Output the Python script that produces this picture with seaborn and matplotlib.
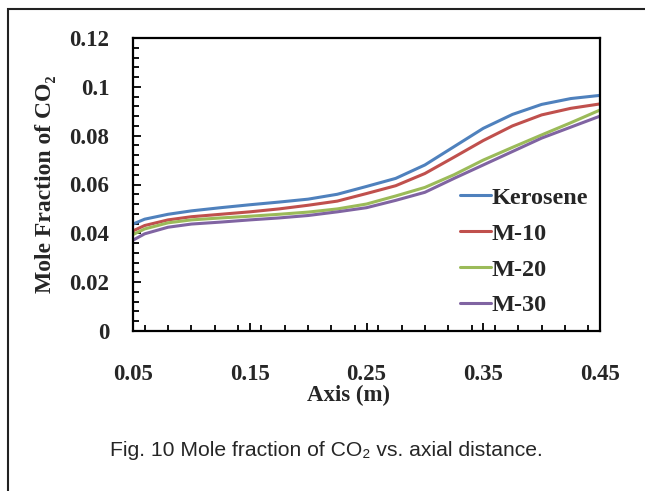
"""Mole fraction of CO2 along the combustor axis"""

import matplotlib.pyplot as plt
import pandas as pd
import seaborn as sns
from matplotlib.patches import Rectangle
from matplotlib.ticker import MultipleLocator, FixedLocator

# values
axis_m = [0.05, 0.06, 0.08, 0.10, 0.125, 0.15, 0.175, 0.20, 0.225, 0.25,
          0.275, 0.30, 0.325, 0.35, 0.375, 0.40, 0.425, 0.45]
kerosene = [0.0438, 0.0458, 0.0478, 0.0492, 0.0505, 0.0517, 0.0528, 0.0540, 0.0560, 0.0592,
            0.0625, 0.0680, 0.0755, 0.0830, 0.0887, 0.0928, 0.0952, 0.0965]
m10 = [0.0410, 0.0432, 0.0455, 0.0468, 0.0478, 0.0488, 0.0500, 0.0515, 0.0532, 0.0563,
       0.0595, 0.0645, 0.0712, 0.0780, 0.0840, 0.0885, 0.0912, 0.0930]
m20 = [0.0395, 0.0418, 0.0443, 0.0455, 0.0463, 0.0470, 0.0478, 0.0487, 0.0500, 0.0520,
       0.0553, 0.0588, 0.0640, 0.0700, 0.0752, 0.0803, 0.0853, 0.0905]
m30 = [0.0372, 0.0398, 0.0425, 0.0438, 0.0446, 0.0455, 0.0463, 0.0473, 0.0488, 0.0505,
       0.0535, 0.0568, 0.0625, 0.0680, 0.0735, 0.0790, 0.0835, 0.0880]
fuels = ['Kerosene', 'M-10', 'M-20', 'M-30']
colors = ['#4F81BD', '#C0504D', '#9BBB59', '#8064A2']
x_ticks = [0.05, 0.15, 0.25, 0.35, 0.45]
y_ticks = [0, 0.02, 0.04, 0.06, 0.08, 0.1, 0.12]
y_ticklabels = ['0', '0.02', '0.04', '0.06', '0.08', '0.1', '0.12']

df = pd.DataFrame({
    'axis': axis_m * 4,
    'co2': kerosene + m10 + m20 + m30,
    'fuel': [f for f in fuels for _ in axis_m],
})

sns.set_style('white')
plt.rcParams['font.family'] = ['Liberation Serif', 'DejaVu Serif']

fig = plt.figure(figsize=(6.45, 4.91), dpi=100)
ax = fig.add_axes([133 / 645, 1 - 331 / 491, 467 / 645, 293 / 491])

sns.lineplot(data=df, x='axis', y='co2', hue='fuel', palette=colors,
             estimator=None, lw=2.2, ax=ax)

ax.set_xlim(0.05, 0.45)
ax.set_ylim(0, 0.12)
ax.xaxis.set_major_locator(FixedLocator(x_ticks))
ax.xaxis.set_minor_locator(MultipleLocator(0.02))
ax.yaxis.set_major_locator(FixedLocator(y_ticks))
ax.yaxis.set_minor_locator(MultipleLocator(0.004))
ax.set_xticklabels([f'{v:.2f}' for v in x_ticks])
ax.set_yticklabels(y_ticklabels)

ax.tick_params(which='both', direction='in', width=1.3, color='black',
               bottom=True, left=True, top=False, right=False)
ax.tick_params(which='major', length=6, labelsize=16.5)
ax.tick_params(which='minor', length=4.5)
ax.tick_params(axis='x', which='major', pad=24)
ax.tick_params(axis='y', which='major', pad=17)
for lbl in ax.get_xticklabels() + ax.get_yticklabels():
    lbl.set_fontweight('bold')
for sp in ax.spines.values():
    sp.set_color('black')
    sp.set_linewidth(1.6)

ax.set_xlabel('Axis (m)', fontsize=16.5, fontweight='bold', va='top')
ax.set_ylabel('Mole Fraction of CO\u2082', fontsize=17, fontweight='bold')
ax.xaxis.set_label_coords(0.462, -0.184)
ax.yaxis.set_label_coords(-0.165, 0.5)

leg = ax.legend(loc='upper left', bbox_to_anchor=(0.70, 0.492), frameon=False,
                fontsize=17.5, handlelength=1.27, handletextpad=0.02,
                labelspacing=0.57, borderpad=0, borderaxespad=0)
for t in leg.get_texts():
    t.set_fontweight('bold')

fig.text(110 / 645, 1 - 451 / 491, 'Fig. 10 Mole fraction of CO\u2082 vs. axial distance.',
         family=['Liberation Sans', 'DejaVu Sans'], fontsize=15.2, va='center', ha='left')

# page frame round the figure
fig.patches.append(Rectangle((8 / 645, -0.1), 1.2, 1 - 9 / 491 + 0.1,
                             transform=fig.transFigure, fill=False,
                             edgecolor='#222222', lw=1.5))

fig.savefig('out.png', dpi=100)
